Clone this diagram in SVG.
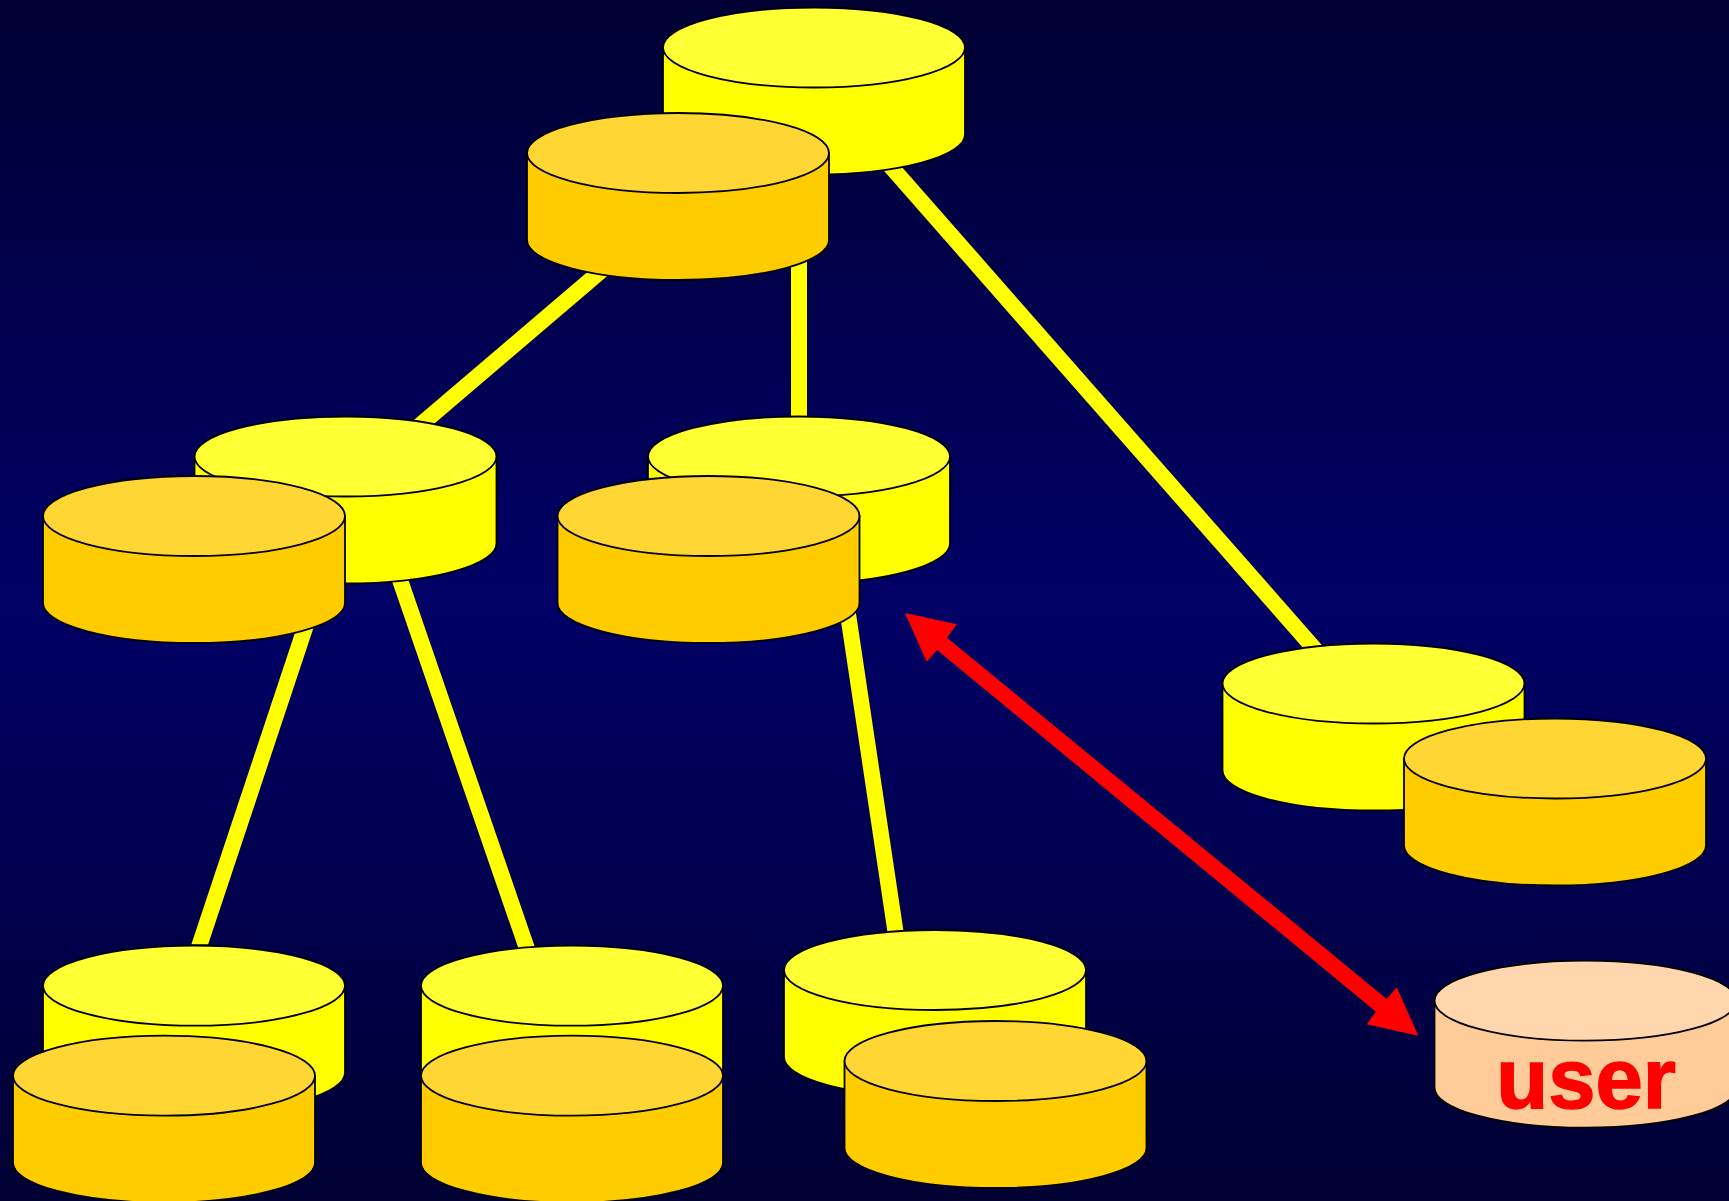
<svg xmlns="http://www.w3.org/2000/svg" width="1729" height="1201" viewBox="0 0 1729 1201">
<defs>
<linearGradient id="bg" x1="0" y1="0" x2="0" y2="1"><stop offset="0" stop-color="#000033"/><stop offset="0.5" stop-color="#000066"/><stop offset="1" stop-color="#000033"/></linearGradient>
<path id="side" d="M-151 0V87A151 40 0 0 0 151 87V0Z"/>
<ellipse id="cap" cx="0" cy="0" rx="151" ry="40"/>
</defs>
<style>
.s{stroke:#000;stroke-width:1.8}
.y .b{fill:#ffff00}.y .t{fill:#ffff33}
.o .b{fill:#ffcc00}.o .t{fill:#ffd633}
.u .b{fill:#ffcc99}.u .t{fill:#ffd6ad}
.l{stroke:#ffff00;stroke-width:16;fill:none}
.user{font-family:"Liberation Sans",Arial,sans-serif;font-weight:700;font-size:85px;fill:#ff0000;stroke:#ff0000;stroke-width:1.5;text-anchor:middle}
</style>
<rect width="1729" height="1201" fill="url(#bg)"/>
<g id="connectors">
<line class="l" x1="875" y1="148.5" x2="1330" y2="666.5"/>
<line class="l" x1="799" y1="240" x2="799" y2="430"/>
<line class="l" x1="620" y1="254.7" x2="400" y2="442.3"/>
<polygon fill="#ffff00" points="299.2,620 316.1,620 208.2,944.3 191.4,944.3"/>
<line class="l" x1="390" y1="551" x2="534" y2="969"/>
<line class="l" x1="845" y1="594" x2="899" y2="955"/>
<polygon id="double-arrow" fill="#ff0000" points="905,613 956.7,624.3 947,637.7 1386.7,999 1396.7,987.3 1418.3,1035.7 1366.7,1024.3 1376,1011.7 937,650 926.7,661.7"/>
</g>
<g id="n1" class="y" transform="translate(814 47.5)"><use href="#side" class="b s"/><use href="#cap" class="t s"/></g>
<g id="n1b" class="o" transform="translate(678 153)"><use href="#side" class="b s"/><use href="#cap" class="t s"/></g>
<g id="n2" class="y" transform="translate(345.5 456.5)"><use href="#side" class="b s"/><use href="#cap" class="t s"/></g>
<g id="n2b" class="o" transform="translate(194 516)"><use href="#side" class="b s"/><use href="#cap" class="t s"/></g>
<g id="n3" class="y" transform="translate(799 456.5)"><use href="#side" class="b s"/><use href="#cap" class="t s"/></g>
<g id="n3b" class="o" transform="translate(708.5 516)"><use href="#side" class="b s"/><use href="#cap" class="t s"/></g>
<g id="n4" class="y" transform="translate(1373.5 683.5)"><use href="#side" class="b s"/><use href="#cap" class="t s"/></g>
<g id="n4b" class="o" transform="translate(1555 758.5)"><use href="#side" class="b s"/><use href="#cap" class="t s"/></g>
<g id="n5" class="y" transform="translate(194 985.7)"><use href="#side" class="b s"/><use href="#cap" class="t s"/></g>
<g id="n5b" class="o" transform="translate(164 1075.7)"><use href="#side" class="b s"/><use href="#cap" class="t s"/></g>
<g id="n6" class="y" transform="translate(572 985.7)"><use href="#side" class="b s"/><use href="#cap" class="t s"/></g>
<g id="n6b" class="o" transform="translate(572 1075.7)"><use href="#side" class="b s"/><use href="#cap" class="t s"/></g>
<g id="n7" class="y" transform="translate(935 970)"><use href="#side" class="b s"/><use href="#cap" class="t s"/></g>
<g id="n7b" class="o" transform="translate(995.5 1061)"><use href="#side" class="b s"/><use href="#cap" class="t s"/></g>
<g id="user" class="u"><g transform="translate(1585.5 1000.7)"><use href="#side" class="b s"/><use href="#cap" class="t s"/></g><text class="user" x="1586" y="1108">user</text></g>
</svg>
